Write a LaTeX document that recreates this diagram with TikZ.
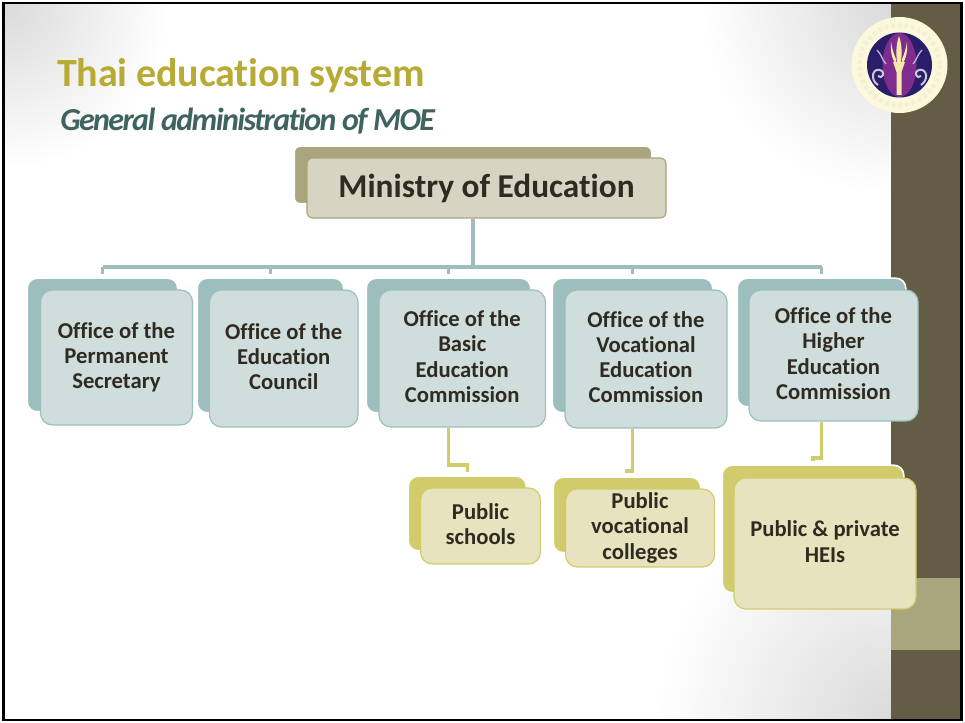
\documentclass[tikz,border=0pt]{standalone}
\usepackage{fontspec}
\setmainfont{Carlito}[Ligatures=NoCommon]
\definecolor{barbrown}{HTML}{655C45}
\definecolor{bartan}{HTML}{A9A57C}
\definecolor{mfill}{HTML}{D6D4C3}
\definecolor{teal}{HTML}{9CBEBD}
\definecolor{tealfill}{HTML}{CFDDDC}
\definecolor{ylw}{HTML}{D2CB6C}
\definecolor{ylwfill}{HTML}{E7E3BE}
\definecolor{titlecol}{HTML}{B8AB35}
\definecolor{subcol}{HTML}{3F6360}
\definecolor{inkcol}{HTML}{2F2B20}
\definecolor{cornergray}{HTML}{DADADA}
\definecolor{ringcol}{HTML}{FBF8DC}
\definecolor{navy}{HTML}{2A1E6A}
\definecolor{purp}{HTML}{7E2C8E}
\definecolor{torch}{HTML}{F5E9A8}
\pgfdeclareradialshading{cornerglow}{\pgfpoint{0bp}{0bp}}{color(0bp)=(cornergray); color(25bp)=(white); color(50bp)=(white)}
\tikzset{
  x=0.75pt, y=-0.75pt,
  backbox/.style={rounded corners=7.5pt, inner sep=0pt, draw=white, line width=1.2pt},
  frontbox/.style={rounded corners=9pt, inner sep=0pt, line width=0.9pt, align=center, text=inkcol, font=\fontsize{17}{18.9}\selectfont\bfseries},
  mback/.style={backbox, fill=bartan, rounded corners=4.5pt},
  mfront/.style={frontbox, fill=mfill, draw=bartan, rounded corners=4.5pt, font=\fontsize{25}{30}\selectfont\bfseries},
  tback/.style={backbox, fill=teal},
  tfront/.style={frontbox, fill=tealfill, draw=teal},
  yback/.style={backbox, fill=ylw},
  yfront/.style={frontbox, fill=ylwfill, draw=ylw},
  tconn/.style={draw=teal, line width=2.3pt},
  yconn/.style={draw=ylw, line width=2.3pt},
}
\newcommand{\bx}[7]{\node[#6, minimum width={(#4-#2)*0.75pt}, minimum height={(#5-#3)*0.75pt}] (#1) at ({(#2+#4)/2},{(#3+#5)/2}) {#7};}
\newcommand{\bk}[6]{\node[#6, minimum width={(#4-#2+1.6)*0.75pt}, minimum height={(#5-#3+1.6)*0.75pt}] (#1) at ({(#2+#4)/2},{(#3+#5)/2}) {};}
\newcommand{\lastd}{\rule[-3pt]{0pt}{3pt}}
\begin{document}
\begin{tikzpicture}
\useasboundingbox (0,0) rectangle (965,723);
\fill[white] (0,0) rectangle (965,723);
% corner glows
\begin{scope}
\clip (4,4) rectangle (891,719);
\shade[shading=cornerglow] (4,4) circle (165);
\shade[shading=cornerglow] (891,4) circle (190);
\shade[shading=cornerglow] (891,719) circle (235);
\end{scope}
% side bar
\fill[barbrown] (891,4) rectangle (961,719);
\fill[bartan] (891,578) rectangle (961,650);
\draw[black, line width=2.2pt] (3.5,3) rectangle (961.5,720);
% logo
\fill[ringcol] (899.5,65) circle (48);
\draw[ylw!28, line width=3.5pt, dash pattern=on 3pt off 2pt] (899.5,65) circle (40);
\fill[navy] (899.5,65) circle (32.5);
\begin{scope}
\clip (899.5,65) circle (32.5);
\fill[purp] (899.5,65) ellipse (17 and 32);
\draw[white!75!navy, line width=1.5pt] (878,85) .. controls (870,80) and (872,68) .. (880,70) .. controls (886,72) and (882,80) .. (878,76);
\draw[white!75!navy, line width=1.5pt] (921,85) .. controls (929,80) and (927,68) .. (919,70) .. controls (913,72) and (917,80) .. (921,76);
\draw[white!60!purp, line width=1pt] (877,50) .. controls (882,55) and (882,60) .. (886,64);
\draw[white!60!purp, line width=1pt] (922,50) .. controls (917,55) and (917,60) .. (913,64);
\end{scope}
\fill[torch] (899,36) .. controls (902,44) and (902,54) .. (901,62) -- (897,62) .. controls (896,54) and (896,44) .. (899,36) -- cycle;
\fill[torch] (891,42) .. controls (890,50) and (892,60) .. (896,64) -- (896,59) .. controls (894,55) and (892,48) .. (891,42) -- cycle;
\fill[torch] (907,42) .. controls (908,50) and (906,60) .. (902,64) -- (902,59) .. controls (904,55) and (906,48) .. (907,42) -- cycle;
\fill[torch] (893,62) -- (905,62) -- (901.5,72) -- (901.5,95) -- (896.5,95) -- (896.5,72) -- cycle;
% titles
\node[anchor=base west, inner sep=0pt, text=titlecol, font=\fontsize{30}{36}\selectfont\bfseries\addfontfeatures{LetterSpace=-0.4}] (title) at (57,87) {Thai education system};
\node[anchor=base west, inner sep=0pt, text=subcol, font=\fontsize{24}{28}\selectfont\bfseries\itshape\addfontfeatures{LetterSpace=-5}] (subtitle) at (60,131) {General administration of MOE};
% boxes
\bk{mb}{295}{147}{651}{203}{mback}
\bx{m}{307}{158}{666}{218}{mfront}{Ministry of Education}
\bk{o1b}{28}{279}{177}{411}{tback}
\bx{o1}{40.5}{290}{192.5}{425}{tfront}{Office of the\\Permanent\\Secretary\lastd}
\bk{o2b}{198}{279}{343}{412}{tback}
\bx{o2}{209.5}{290}{358}{427}{tfront}{Office of the\\Education\\Council\lastd}
\bk{o3b}{367}{279}{530}{412}{tback}
\bx{o3}{379}{290}{545.5}{427}{tfront}{Office of the\\Basic\\Education\\Commission\lastd}
\bk{o4b}{553}{279}{712}{412}{tback}
\bx{o4}{565}{290}{727}{428}{tfront}{Office of the\\Vocational\\Education\\Commission\lastd}
\bk{o5b}{738}{279}{905}{406}{tback}
\bx{o5}{749}{290}{918}{421}{tfront}{Office of the\\Higher\\Education\\Commission\lastd}
\bk{s1b}{409}{477}{525.5}{550}{yback}
\bx{s1}{420.5}{488}{540.5}{564}{yfront}{Public\\schools\lastd}
\bk{s2b}{554}{478}{700}{552}{yback}
\bx{s2}{565.5}{489}{714.5}{567}{yfront}{Public\\vocational\\colleges\lastd}
\bk{s3b}{723}{466}{903}{592}{yback}
\bx{s3}{734}{478}{916}{609}{yfront}{Public \& private\\HEIs\lastd}
% connectors
\coordinate (hub) at (0,267);
\draw[tconn] (mb.south |- m.south) -- (mb.south |- hub);
\draw[tconn] (o1b.north |- hub) -- (o5b.north |- hub);
\foreach \n in {o1b,o2b,o3b,o4b,o5b} \draw[tconn, shorten >=2.2pt] (\n.north |- hub) -- (\n.north);
\coordinate (k1) at (0,465);
\coordinate (k2) at (0,471);
\coordinate (k3) at (0,458);
\draw[yconn, shorten >=2.2pt] (o3b.south |- o3.south) -- (o3b.south |- k1) -- (s1b.north |- k1) -- (s1b.north);
\draw[yconn, shorten >=2.2pt] (o4b.south |- o4.south) -- (o4b.south |- k2) -- (s2b.north |- k2) -- (s2b.north);
\draw[yconn, shorten >=2.2pt] (o5b.south |- o5.south) -- (o5b.south |- k3) -- (s3b.north |- k3) -- (s3b.north);
\end{tikzpicture}
\end{document}
